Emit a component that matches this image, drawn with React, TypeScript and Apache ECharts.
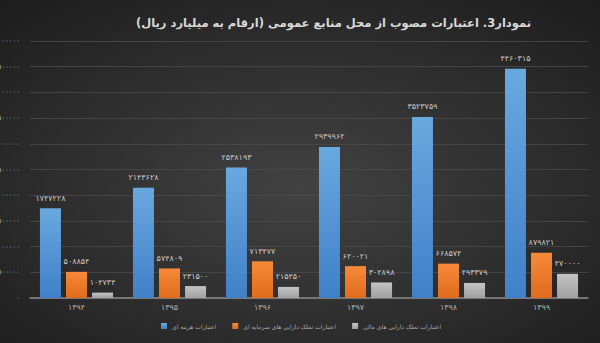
import React, { useEffect, useRef } from "react";
import * as echarts from "echarts";

const categories = ["۱۳۹۴", "۱۳۹۵", "۱۳۹۶", "۱۳۹۷", "۱۳۹۸", "۱۳۹۹"];
const seriesNames = [
  "اعتبارات هزینه ای",
  "اعتبارات تملک دارایی های سرمایه ای",
  "اعتبارات تملک دارایی های مالی",
];
const currentCredits = [1747228, 2143628, 2538193, 2939962, 3523759, 4460315];
const capitalCredits = [508854, 574809, 713477, 620021, 668574, 879821];
const financialCredits = [104734, 231500, 215450, 302898, 293379, 470000];
const titleText = "نمودار3. اعتبارات مصوب از محل منابع عمومی (ارقام به میلیارد ریال)";

const toFa = (v: number | string) =>
  String(v).replace(/[0-9]/g, (d) => "۰۱۲۳۴۵۶۷۸۹"[Number(d)]);

const FONT = "DejaVu Sans";

export default function App() {
  const ref = useRef<HTMLDivElement>(null);
  useEffect(() => {
    document.body.style.margin = "0";
    const chart = echarts.init(ref.current!, null, { renderer: "svg" });
    const lin = (a: string, b: string) =>
      new echarts.graphic.LinearGradient(0, 0, 0, 1, [
        { offset: 0, color: a },
        { offset: 1, color: b },
      ]);
    const label = {
      show: true,
      position: "top" as const,
      color: "#c8c8c8",
      fontSize: 8,
      fontFamily: FONT,
      distance: 6,
      formatter: (p: any) => toFa(p.value),
    };
    chart.setOption({
      animation: false,
      backgroundColor: {
        type: "radial",
        x: 0.5,
        y: 0.55,
        r: 0.75,
        colorStops: [
          { offset: 0, color: "#424242" },
          { offset: 1, color: "#1c1c1c" },
        ],
      },
      title: {
        text: titleText,
        left: 131,
        top: 12,
        textStyle: { color: "#d8d8d8", fontSize: 11.5, fontWeight: "bold", fontFamily: FONT },
      },
      legend: {
        bottom: 9,
        left: 156,
        itemWidth: 6,
        itemHeight: 6,
        itemGap: 16,
        icon: "rect",
        textStyle: { color: "#a8a8a8", fontSize: 6, fontFamily: FONT },
        data: seriesNames,
      },
      grid: { left: 30, right: 12, top: 41, bottom: 45, outerBoundsMode: "none", containLabel: false },
      xAxis: {
        type: "category",
        data: categories,
        axisLine: { lineStyle: { color: "#8a8a8a", width: 1.5 } },
        axisTick: { show: false },
        axisLabel: { color: "#b0b0b0", fontSize: 8, fontFamily: FONT, margin: 5 },
      },
      yAxis: {
        type: "value",
        min: 0,
        max: 5000000,
        interval: 500000,
        axisLine: { show: false },
        axisTick: { show: false },
        splitLine: { lineStyle: { color: "#4a4a4a", width: 0.8 } },
        axisLabel: {
          color: "#b0b0b0",
          fontSize: 7,
          fontFamily: FONT,
          margin: 10,
          formatter: (v: number) => toFa(v),
        },
      },
      series: [
        {
          name: seriesNames[0],
          type: "bar",
          data: currentCredits,
          barWidth: 21,
          barGap: "24%",
          itemStyle: { color: lin("#6aa8e0", "#3f80c8") },
          label,
        },
        {
          name: seriesNames[1],
          type: "bar",
          data: capitalCredits,
          barWidth: 21,
          barGap: "24%",
          itemStyle: { color: lin("#f68a3a", "#e06b1c") },
          label,
        },
        {
          name: seriesNames[2],
          type: "bar",
          data: financialCredits,
          barWidth: 21,
          barGap: "24%",
          itemStyle: { color: lin("#c4c4c4", "#a0a0a0") },
          label,
        },
      ],
    });
    return () => chart.dispose();
  }, []);
  return <div ref={ref} style={{ width: 600, height: 343 }} />;
}
